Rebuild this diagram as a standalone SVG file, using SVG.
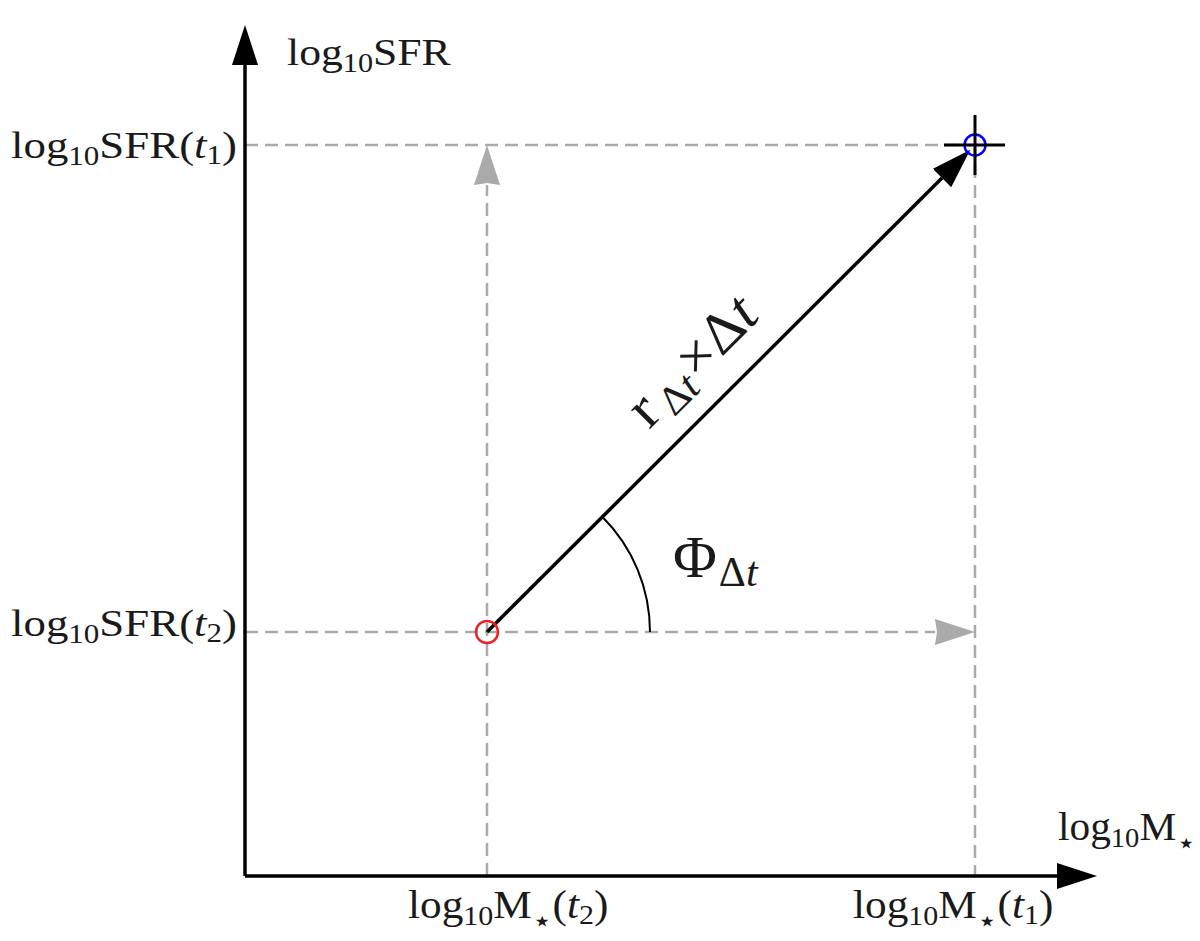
<svg xmlns="http://www.w3.org/2000/svg" width="1200" height="941" viewBox="0 0 1200 941">
<style>
.lbl{font-family:"Liberation Serif","Times New Roman",serif;fill:#1a1a1a;font-size:39px}
.sub{font-size:27px}
.it{font-style:italic}
.star{font-family:"DejaVu Sans",sans-serif;font-size:30px}
.dash{stroke:#aaaaaa;stroke-width:2.5;stroke-dasharray:13 7;fill:none}
.axis{stroke:#000;stroke-width:3.5;fill:none}
</style>
<defs>
<marker id="ah" markerUnits="userSpaceOnUse" viewBox="0 -13 40 26" markerWidth="40" markerHeight="26" refX="0" refY="0" orient="auto">
<path d="M0,-13 L40,0 L0,13 z" fill="#000"/>
</marker>
<marker id="gh" markerUnits="userSpaceOnUse" viewBox="0 -13 40 26" markerWidth="40" markerHeight="26" refX="0" refY="0" orient="auto">
<path d="M0,-13 L40,0 L0,13 L2,0 z" fill="#aaaaaa"/>
</marker>
</defs>
<rect width="1200" height="941" fill="#fff"/>

<g id="connectors">
<line class="dash" x1="245" y1="145" x2="975" y2="145"/>
<line class="dash" x1="975" y1="145" x2="975" y2="876"/>
<line class="dash" x1="487" y1="876" x2="487" y2="185" marker-end="url(#gh)"/>
<line class="dash" x1="245" y1="632" x2="935" y2="632" marker-end="url(#gh)"/>
<line class="axis" x1="245" y1="876" x2="245" y2="65" marker-end="url(#ah)"/>
<line class="axis" x1="245" y1="876" x2="1057" y2="876" marker-end="url(#ah)"/>
<path d="M650,632 A163,163 0 0 0 602.3,516.7" stroke="#000" stroke-width="2" fill="none"/>
<line x1="487" y1="632" x2="942" y2="178" stroke="#000" stroke-width="3.5" marker-end="url(#ah)"/>
</g>

<g id="point-t2">
<circle cx="487" cy="632" r="11" fill="none" stroke="#ee2222" stroke-width="2.5"/>
</g>
<g id="point-t1">
<circle cx="975" cy="145" r="10.5" fill="none" stroke="#0000ff" stroke-width="2.5"/>
<line x1="944" y1="145" x2="1005" y2="145" stroke="#000" stroke-width="3"/>
<line x1="975" y1="115" x2="975" y2="175" stroke="#000" stroke-width="3"/>
</g>

<g id="y-axis-label">
<text class="lbl" transform="translate(287,65) scale(1.12,1)">log<tspan class="sub" dy="7">10</tspan><tspan dy="-7">SFR</tspan></text>
</g>
<g id="x-axis-label">
<text class="lbl" transform="translate(1058,840) scale(1.06,1)">log<tspan class="sub" dy="7">10</tspan><tspan dy="-7">M</tspan><tspan class="star" dy="13">⋆</tspan></text>
</g>
<g id="sfr-t1-label">
<text class="lbl" text-anchor="end" transform="translate(237,158) scale(1.15,1)">log<tspan class="sub" dy="7">10</tspan><tspan dy="-7">SFR(</tspan><tspan class="it">t</tspan><tspan class="sub" dy="6">1</tspan><tspan dy="-6">)</tspan></text>
</g>
<g id="sfr-t2-label">
<text class="lbl" text-anchor="end" transform="translate(237,636) scale(1.15,1)">log<tspan class="sub" dy="7">10</tspan><tspan dy="-7">SFR(</tspan><tspan class="it">t</tspan><tspan class="sub" dy="6">2</tspan><tspan dy="-6">)</tspan></text>
</g>
<g id="m-t2-label">
<text class="lbl" transform="translate(408,918) scale(1.11,1)">log<tspan class="sub" dy="7">10</tspan><tspan dy="-7">M</tspan><tspan class="star" dy="13">⋆</tspan><tspan dy="-13">(</tspan><tspan class="it">t</tspan><tspan class="sub" dy="6">2</tspan><tspan dy="-6">)</tspan></text>
</g>
<g id="m-t1-label">
<text class="lbl" transform="translate(853,918) scale(1.11,1)">log<tspan class="sub" dy="7">10</tspan><tspan dy="-7">M</tspan><tspan class="star" dy="13">⋆</tspan><tspan dy="-13">(</tspan><tspan class="it">t</tspan><tspan class="sub" dy="6">1</tspan><tspan dy="-6">)</tspan></text>
</g>
<g id="phi-label">
<text class="lbl" x="673" y="577" style="font-size:60px">Φ<tspan dx="2" dy="9" style="font-size:42px">Δ</tspan><tspan class="it" style="font-size:42px">t</tspan></text>
</g>
<g id="rate-label">
<text class="lbl" transform="translate(649,430) rotate(-45) scale(1.05,1)" style="font-size:58px">r<tspan dx="6" dy="9" style="font-size:41px">Δ</tspan><tspan class="it" style="font-size:41px">t</tspan><tspan dx="2" dy="-9">×Δ</tspan><tspan class="it">t</tspan></text>
</g>
</svg>
